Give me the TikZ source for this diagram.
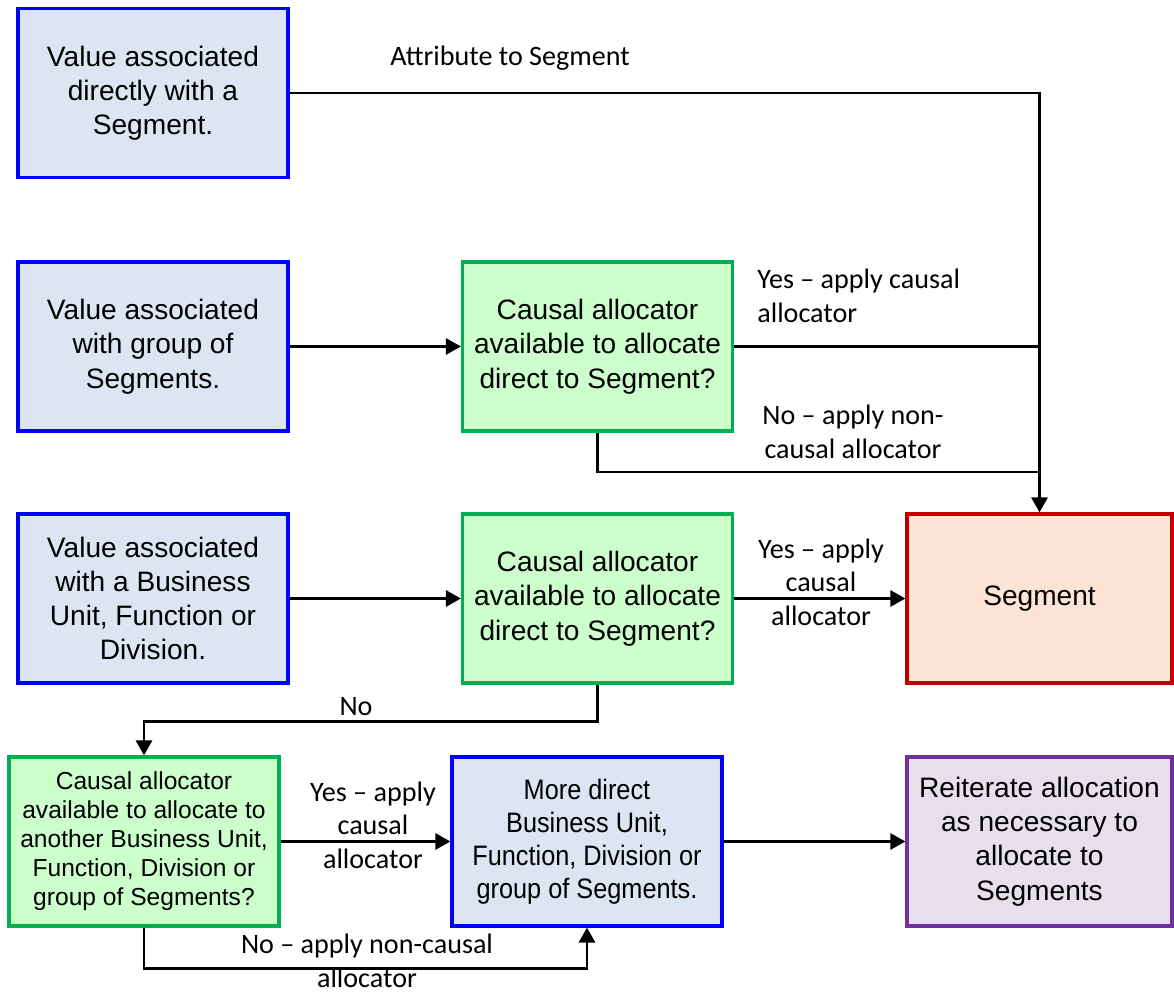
\documentclass[tikz,border=0pt]{standalone}
\usepackage{fontspec}
\setmainfont{Liberation Sans}
\newfontfamily\lblfont[Ligatures=TeX]{Carlito}
\newfontfamily\narrowfont[FakeStretch=0.9]{Liberation Sans}
\usetikzlibrary{arrows.meta}
\definecolor{valblue}{RGB}{0,0,255}
\definecolor{valfill}{RGB}{220,230,242}
\definecolor{askgreen}{RGB}{0,176,80}
\definecolor{askfill}{RGB}{204,255,204}
\definecolor{segred}{RGB}{192,0,0}
\definecolor{segfill}{RGB}{253,228,214}
\definecolor{iterpurple}{RGB}{112,48,160}
\definecolor{iterfill}{RGB}{230,224,236}
\tikzset{
    box/.style={draw, rectangle, line width=1.8pt, minimum width=5.4cm, minimum height=3.38cm, align=center, inner sep=2pt, font=\fontsize{16}{19.5}\selectfont},
    valbox/.style={box, draw=valblue, fill=valfill},
    askbox/.style={box, draw=askgreen, fill=askfill},
    segbox/.style={box, draw=segred, fill=segfill, minimum width=5.3cm},
    iterbox/.style={box, draw=iterpurple, fill=iterfill, minimum width=5.3cm},
    lbl/.style={align=center, inner sep=0pt, font=\lblfont\fontsize{16}{19}\selectfont},
    link/.style={line width=1.6pt},
    arr/.style={link, -{Triangle[length=3mm,width=3.2mm]}}
}
\begin{document}
\begin{tikzpicture}[x=0.02cm, y=-0.02cm]
    \useasboundingbox (0,0) rectangle (1174,996);

    \node[valbox] (direct) at (153,93) {Value associated\\directly with a\\Segment.};
    \node[valbox] (group) at (153,346.5) {Value associated\\with group of\\Segments.};
    \node[valbox] (unit) at (153,598.5) {Value associated\\with a Business\\Unit, Function or\\Division.};
    \node[askbox] (askgroup) at (597.5,346.5) {Causal allocator\\available to allocate\\direct to Segment?};
    \node[askbox] (askunit) at (597.5,598.5) {Causal allocator\\available to allocate\\direct to Segment?};
    \node[segbox] (segment) at (1039.5,598.5) {Segment};
    \node[askbox, font=\fontsize{14}{16.5}\selectfont] (askother) at (144,841.5) {Causal allocator\\available to allocate to\\another Business Unit,\\Function, Division or\\group of Segments?};
    \node[valbox, font=\narrowfont\fontsize{16}{18.7}\selectfont] (moredirect) at (587,841.5) {More direct\\Business Unit,\\Function, Division or\\group of Segments.};
    \node[iterbox] (reiterate) at (1039.5,841.5) {Reiterate allocation\\as necessary to\\allocate to\\Segments};

    \coordinate (nomerge) at (1039.5,472);

    \draw[arr] (direct.east) -| (segment.north);
    \draw[arr] (group) -- (askgroup);
    \draw[link] (askgroup.east) -- (askgroup.east -| segment.north);
    \draw[link] (askgroup.south) |- (nomerge);
    \draw[arr] (unit) -- (askunit);
    \draw[arr] (askunit) -- (segment);
    \draw[arr] (askunit.south) -- ++(0,37) -| (askother.north);
    \draw[arr] (askother) -- (moredirect);
    \draw[arr] (askother.south) -- ++(0,41) -| (moredirect.south);
    \draw[arr] (moredirect) -- (reiterate);

    \node[lbl] (attrlbl) at (510,58) {Attribute to Segment};
    \node[lbl, anchor=west, align=left] (yes1) at (757,296) {Yes – apply causal\\allocator};
    \node[lbl] (no1) at (853,432) {No – apply non-\\causal allocator};
    \node[lbl] (yes2) at (821,582) {Yes – apply\\causal\\allocator};
    \node[lbl] (no2) at (356,707) {No};
    \node[lbl] (yes3) at (373,825) {Yes – apply\\causal\\allocator};
    \node[lbl, font=\lblfont\fontsize{16}{19.5}\selectfont] (no3) at (367,961) {No – apply non-causal\\allocator};
\end{tikzpicture}
\end{document}
